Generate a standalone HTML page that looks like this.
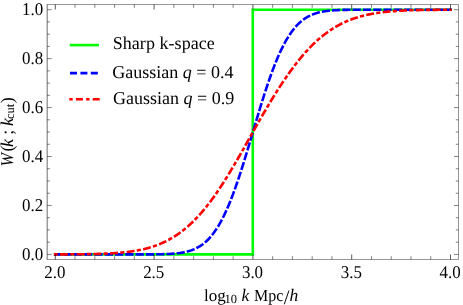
<!DOCTYPE html>
<html><head><meta charset="utf-8">
<style>
html,body{margin:0;padding:0;background:#fff;}
body{width:463px;height:305px;overflow:hidden;}
svg{display:block;will-change:transform;}
text{font-family:"Liberation Serif",serif;font-size:18px;fill:#000;text-rendering:geometricPrecision;}
#txt{filter:grayscale(1);}
.i{font-style:italic;}
</style></head><body>
<svg width="463" height="305" viewBox="0 0 463 305">
<rect width="463" height="305" fill="#fff"/>
<path d="M53.90,254.4 L252.8,254.4 L252.8,9.7 L451.80,9.7" fill="none" stroke="#00ff00" stroke-width="2.6" stroke-linejoin="miter"/>
<path d="M53.90,254.40 L54.89,254.40 L55.89,254.40 L56.88,254.40 L57.88,254.40 L58.87,254.40 L59.87,254.40 L60.86,254.40 L61.86,254.40 L62.85,254.40 L63.84,254.40 L64.84,254.40 L65.83,254.40 L66.83,254.40 L67.82,254.40 L68.82,254.40 L69.81,254.40 L70.81,254.40 L71.80,254.40 L72.80,254.40 L73.79,254.40 L74.79,254.40 L75.78,254.40 L76.78,254.40 L77.77,254.40 L78.77,254.40 L79.76,254.40 L80.76,254.40 L81.75,254.40 L82.75,254.40 L83.74,254.40 L84.73,254.40 L85.73,254.40 L86.72,254.40 L87.72,254.40 L88.71,254.40 L89.71,254.40 L90.70,254.40 L91.70,254.40 L92.69,254.40 L93.69,254.40 L94.68,254.40 L95.68,254.40 L96.67,254.40 L97.67,254.40 L98.66,254.40 L99.66,254.40 L100.65,254.40 L101.65,254.40 L102.64,254.40 L103.64,254.40 L104.63,254.40 L105.62,254.40 L106.62,254.40 L107.61,254.40 L108.61,254.40 L109.60,254.40 L110.60,254.40 L111.59,254.40 L112.59,254.40 L113.58,254.40 L114.58,254.40 L115.57,254.40 L116.57,254.40 L117.56,254.40 L118.56,254.40 L119.55,254.40 L120.55,254.40 L121.54,254.40 L122.54,254.40 L123.53,254.40 L124.53,254.40 L125.52,254.40 L126.52,254.40 L127.51,254.40 L128.50,254.40 L129.50,254.40 L130.49,254.40 L131.49,254.40 L132.48,254.40 L133.48,254.40 L134.47,254.39 L135.47,254.39 L136.46,254.39 L137.46,254.39 L138.45,254.39 L139.45,254.39 L140.44,254.39 L141.44,254.39 L142.43,254.38 L143.43,254.38 L144.42,254.38 L145.42,254.37 L146.41,254.37 L147.41,254.37 L148.40,254.36 L149.39,254.36 L150.39,254.35 L151.38,254.34 L152.38,254.34 L153.37,254.33 L154.37,254.32 L155.36,254.31 L156.36,254.30 L157.35,254.28 L158.35,254.27 L159.34,254.25 L160.34,254.23 L161.33,254.21 L162.33,254.19 L163.32,254.16 L164.32,254.13 L165.31,254.10 L166.31,254.06 L167.30,254.02 L168.30,253.98 L169.29,253.93 L170.28,253.87 L171.28,253.81 L172.27,253.75 L173.27,253.67 L174.26,253.59 L175.26,253.51 L176.25,253.41 L177.25,253.30 L178.24,253.19 L179.24,253.06 L180.23,252.93 L181.23,252.78 L182.22,252.61 L183.22,252.43 L184.21,252.24 L185.21,252.03 L186.20,251.81 L187.20,251.56 L188.19,251.29 L189.19,251.01 L190.18,250.70 L191.17,250.37 L192.17,250.01 L193.16,249.62 L194.16,249.21 L195.15,248.77 L196.15,248.29 L197.14,247.78 L198.14,247.24 L199.13,246.66 L200.13,246.05 L201.12,245.39 L202.12,244.69 L203.11,243.95 L204.11,243.16 L205.10,242.33 L206.10,241.45 L207.09,240.51 L208.09,239.53 L209.08,238.49 L210.08,237.39 L211.07,236.24 L212.07,235.03 L213.06,233.76 L214.05,232.43 L215.05,231.03 L216.04,229.57 L217.04,228.05 L218.03,226.46 L219.03,224.80 L220.02,223.08 L221.02,221.28 L222.01,219.42 L223.01,217.48 L224.00,215.48 L225.00,213.41 L225.99,211.26 L226.99,209.05 L227.98,206.77 L228.98,204.42 L229.97,202.00 L230.97,199.52 L231.96,196.97 L232.96,194.35 L233.95,191.67 L234.94,188.94 L235.94,186.14 L236.93,183.29 L237.93,180.38 L238.92,177.42 L239.92,174.41 L240.91,171.35 L241.91,168.25 L242.90,165.11 L243.90,161.93 L244.89,158.72 L245.89,155.47 L246.88,152.20 L247.88,148.91 L248.87,145.59 L249.87,142.26 L250.86,138.92 L251.86,135.57 L252.85,132.22 L253.85,128.86 L254.84,125.51 L255.83,122.17 L256.83,118.84 L257.82,115.52 L258.82,112.22 L259.81,108.95 L260.81,105.70 L261.80,102.49 L262.80,99.31 L263.79,96.16 L264.79,93.06 L265.78,89.99 L266.78,86.98 L267.77,84.01 L268.77,81.10 L269.76,78.24 L270.76,75.44 L271.75,72.69 L272.75,70.01 L273.74,67.39 L274.74,64.83 L275.73,62.34 L276.73,59.92 L277.72,57.56 L278.71,55.27 L279.71,53.05 L280.70,50.90 L281.70,48.82 L282.69,46.81 L283.69,44.87 L284.68,43.00 L285.68,41.20 L286.67,39.47 L287.67,37.80 L288.66,36.21 L289.66,34.67 L290.65,33.21 L291.65,31.81 L292.64,30.47 L293.64,29.19 L294.63,27.98 L295.63,26.82 L296.62,25.72 L297.62,24.67 L298.61,23.68 L299.60,22.75 L300.60,21.86 L301.59,21.02 L302.59,20.23 L303.58,19.48 L304.58,18.78 L305.57,18.12 L306.57,17.50 L307.56,16.91 L308.56,16.37 L309.55,15.86 L310.55,15.38 L311.54,14.93 L312.54,14.52 L313.53,14.13 L314.53,13.77 L315.52,13.43 L316.52,13.12 L317.51,12.83 L318.51,12.57 L319.50,12.32 L320.49,12.09 L321.49,11.88 L322.48,11.68 L323.48,11.51 L324.47,11.34 L325.47,11.19 L326.46,11.05 L327.46,10.92 L328.45,10.81 L329.45,10.70 L330.44,10.60 L331.44,10.52 L332.43,10.43 L333.43,10.36 L334.42,10.29 L335.42,10.23 L336.41,10.18 L337.41,10.13 L338.40,10.08 L339.40,10.04 L340.39,10.01 L341.38,9.97 L342.38,9.94 L343.37,9.92 L344.37,9.89 L345.36,9.87 L346.36,9.85 L347.35,9.83 L348.35,9.82 L349.34,9.81 L350.34,9.79 L351.33,9.78 L352.33,9.77 L353.32,9.76 L354.32,9.76 L355.31,9.75 L356.31,9.74 L357.30,9.74 L358.30,9.73 L359.29,9.73 L360.29,9.73 L361.28,9.72 L362.28,9.72 L363.27,9.72 L364.26,9.71 L365.26,9.71 L366.25,9.71 L367.25,9.71 L368.24,9.71 L369.24,9.71 L370.23,9.71 L371.23,9.71 L372.22,9.70 L373.22,9.70 L374.21,9.70 L375.21,9.70 L376.20,9.70 L377.20,9.70 L378.19,9.70 L379.19,9.70 L380.18,9.70 L381.18,9.70 L382.17,9.70 L383.17,9.70 L384.16,9.70 L385.15,9.70 L386.15,9.70 L387.14,9.70 L388.14,9.70 L389.13,9.70 L390.13,9.70 L391.12,9.70 L392.12,9.70 L393.11,9.70 L394.11,9.70 L395.10,9.70 L396.10,9.70 L397.09,9.70 L398.09,9.70 L399.08,9.70 L400.08,9.70 L401.07,9.70 L402.07,9.70 L403.06,9.70 L404.06,9.70 L405.05,9.70 L406.04,9.70 L407.04,9.70 L408.03,9.70 L409.03,9.70 L410.02,9.70 L411.02,9.70 L412.01,9.70 L413.01,9.70 L414.00,9.70 L415.00,9.70 L415.99,9.70 L416.99,9.70 L417.98,9.70 L418.98,9.70 L419.97,9.70 L420.97,9.70 L421.96,9.70 L422.96,9.70 L423.95,9.70 L424.95,9.70 L425.94,9.70 L426.93,9.70 L427.93,9.70 L428.92,9.70 L429.92,9.70 L430.91,9.70 L431.91,9.70 L432.90,9.70 L433.90,9.70 L434.89,9.70 L435.89,9.70 L436.88,9.70 L437.88,9.70 L438.87,9.70 L439.87,9.70 L440.86,9.70 L441.86,9.70 L442.85,9.70 L443.85,9.70 L444.84,9.70 L445.84,9.70 L446.83,9.70 L447.83,9.70 L448.82,9.70 L449.81,9.70 L450.81,9.70 L451.80,9.70" fill="none" stroke="#0000ff" stroke-width="2.6" stroke-dasharray="8.250 2.050 8.250 2.050 8.250 2.050 8.250 2.050 8.250 2.050 8.250 2.050 8.250 2.050 8.250 2.050 8.250 2.050 8.219 2.042 8.219 2.042 8.219 2.042 8.219 2.042 8.219 2.042 8.219 2.042 8.219 2.042 8.219 2.042 8.219 2.042 8.219 2.042 8.219 2.042 8.219 2.042 8.219 2.042 8.219 2.042 8.219 2.042 8.219 2.042 8.219 2.042 8.219 2.042 8.219 2.042 8.219 2.042 8.219 2.042 8.219 2.042 8.219 2.042 8.219 2.042 8.219 2.042 8.219 2.042 8.219 2.042 8.219 2.042 8.219 2.042 8.219 2.042 8.219 2.042 8.219 2.042 8.219 2.042 8.242 2.048 8.242 2.048 8.242 2.048 8.242 2.048 8.242 2.048 8.242 2.048 8.242 2.048 8.242 2.048 8.250 2.050 8.250 2.050 8.250 2.050 8.250 2.050 8.250 2.050" stroke-dashoffset="0.70"/>
<path d="M53.90,254.37 L54.89,254.37 L55.89,254.37 L56.88,254.37 L57.88,254.36 L58.87,254.36 L59.87,254.36 L60.86,254.35 L61.86,254.35 L62.85,254.35 L63.84,254.34 L64.84,254.34 L65.83,254.33 L66.83,254.33 L67.82,254.33 L68.82,254.32 L69.81,254.31 L70.81,254.31 L71.80,254.30 L72.80,254.30 L73.79,254.29 L74.79,254.28 L75.78,254.27 L76.78,254.26 L77.77,254.26 L78.77,254.25 L79.76,254.24 L80.76,254.22 L81.75,254.21 L82.75,254.20 L83.74,254.19 L84.73,254.17 L85.73,254.16 L86.72,254.14 L87.72,254.13 L88.71,254.11 L89.71,254.09 L90.70,254.07 L91.70,254.05 L92.69,254.03 L93.69,254.01 L94.68,253.98 L95.68,253.96 L96.67,253.93 L97.67,253.90 L98.66,253.87 L99.66,253.84 L100.65,253.81 L101.65,253.78 L102.64,253.74 L103.64,253.70 L104.63,253.66 L105.62,253.62 L106.62,253.57 L107.61,253.53 L108.61,253.48 L109.60,253.42 L110.60,253.37 L111.59,253.31 L112.59,253.25 L113.58,253.19 L114.58,253.12 L115.57,253.05 L116.57,252.98 L117.56,252.91 L118.56,252.83 L119.55,252.74 L120.55,252.66 L121.54,252.56 L122.54,252.47 L123.53,252.37 L124.53,252.26 L125.52,252.16 L126.52,252.04 L127.51,251.92 L128.50,251.80 L129.50,251.67 L130.49,251.53 L131.49,251.39 L132.48,251.25 L133.48,251.09 L134.47,250.93 L135.47,250.77 L136.46,250.60 L137.46,250.42 L138.45,250.23 L139.45,250.04 L140.44,249.83 L141.44,249.62 L142.43,249.41 L143.43,249.18 L144.42,248.95 L145.42,248.70 L146.41,248.45 L147.41,248.19 L148.40,247.91 L149.39,247.63 L150.39,247.34 L151.38,247.04 L152.38,246.73 L153.37,246.40 L154.37,246.07 L155.36,245.72 L156.36,245.36 L157.35,244.99 L158.35,244.61 L159.34,244.22 L160.34,243.81 L161.33,243.39 L162.33,242.95 L163.32,242.51 L164.32,242.04 L165.31,241.57 L166.31,241.08 L167.30,240.57 L168.30,240.05 L169.29,239.52 L170.28,238.97 L171.28,238.40 L172.27,237.82 L173.27,237.22 L174.26,236.60 L175.26,235.97 L176.25,235.32 L177.25,234.66 L178.24,233.97 L179.24,233.27 L180.23,232.55 L181.23,231.81 L182.22,231.06 L183.22,230.28 L184.21,229.49 L185.21,228.68 L186.20,227.85 L187.20,227.00 L188.19,226.13 L189.19,225.24 L190.18,224.33 L191.17,223.40 L192.17,222.45 L193.16,221.49 L194.16,220.50 L195.15,219.49 L196.15,218.46 L197.14,217.41 L198.14,216.34 L199.13,215.25 L200.13,214.14 L201.12,213.01 L202.12,211.86 L203.11,210.69 L204.11,209.50 L205.10,208.29 L206.10,207.06 L207.09,205.81 L208.09,204.54 L209.08,203.25 L210.08,201.94 L211.07,200.61 L212.07,199.26 L213.06,197.90 L214.05,196.51 L215.05,195.11 L216.04,193.68 L217.04,192.24 L218.03,190.78 L219.03,189.31 L220.02,187.81 L221.02,186.30 L222.01,184.78 L223.01,183.23 L224.00,181.68 L225.00,180.10 L225.99,178.51 L226.99,176.91 L227.98,175.30 L228.98,173.67 L229.97,172.02 L230.97,170.37 L231.96,168.70 L232.96,167.03 L233.95,165.34 L234.94,163.64 L235.94,161.94 L236.93,160.22 L237.93,158.50 L238.92,156.77 L239.92,155.03 L240.91,153.29 L241.91,151.54 L242.90,149.79 L243.90,148.03 L244.89,146.27 L245.89,144.50 L246.88,142.74 L247.88,140.97 L248.87,139.20 L249.87,137.44 L250.86,135.67 L251.86,133.90 L252.85,132.14 L253.85,130.38 L254.84,128.62 L255.83,126.86 L256.83,125.11 L257.82,123.36 L258.82,121.62 L259.81,119.88 L260.81,118.15 L261.80,116.42 L262.80,114.70 L263.79,112.99 L264.79,111.29 L265.78,109.59 L266.78,107.91 L267.77,106.23 L268.77,104.56 L269.76,102.90 L270.76,101.25 L271.75,99.61 L272.75,97.98 L273.74,96.37 L274.74,94.76 L275.73,93.17 L276.73,91.58 L277.72,90.02 L278.71,88.46 L279.71,86.91 L280.70,85.38 L281.70,83.87 L282.69,82.37 L283.69,80.88 L284.68,79.40 L285.68,77.94 L286.67,76.50 L287.67,75.07 L288.66,73.66 L289.66,72.26 L290.65,70.88 L291.65,69.52 L292.64,68.17 L293.64,66.84 L294.63,65.52 L295.63,64.22 L296.62,62.94 L297.62,61.68 L298.61,60.43 L299.60,59.21 L300.60,58.00 L301.59,56.81 L302.59,55.63 L303.58,54.48 L304.58,53.34 L305.57,52.22 L306.57,51.12 L307.56,50.04 L308.56,48.97 L309.55,47.93 L310.55,46.90 L311.54,45.89 L312.54,44.90 L313.53,43.93 L314.53,42.97 L315.52,42.04 L316.52,41.12 L317.51,40.22 L318.51,39.34 L319.50,38.48 L320.49,37.63 L321.49,36.81 L322.48,36.00 L323.48,35.20 L324.47,34.43 L325.47,33.67 L326.46,32.93 L327.46,32.21 L328.45,31.50 L329.45,30.81 L330.44,30.14 L331.44,29.48 L332.43,28.84 L333.43,28.21 L334.42,27.60 L335.42,27.01 L336.41,26.43 L337.41,25.87 L338.40,25.32 L339.40,24.78 L340.39,24.26 L341.38,23.76 L342.38,23.27 L343.37,22.79 L344.37,22.32 L345.36,21.87 L346.36,21.43 L347.35,21.01 L348.35,20.59 L349.34,20.19 L350.34,19.80 L351.33,19.42 L352.33,19.06 L353.32,18.70 L354.32,18.36 L355.31,18.03 L356.31,17.71 L357.30,17.39 L358.30,17.09 L359.29,16.80 L360.29,16.52 L361.28,16.24 L362.28,15.98 L363.27,15.73 L364.26,15.48 L365.26,15.24 L366.25,15.01 L367.25,14.79 L368.24,14.58 L369.24,14.37 L370.23,14.18 L371.23,13.98 L372.22,13.80 L373.22,13.62 L374.21,13.45 L375.21,13.29 L376.20,13.13 L377.20,12.98 L378.19,12.83 L379.19,12.69 L380.18,12.56 L381.18,12.43 L382.17,12.30 L383.17,12.18 L384.16,12.07 L385.15,11.96 L386.15,11.85 L387.14,11.75 L388.14,11.66 L389.13,11.56 L390.13,11.47 L391.12,11.39 L392.12,11.31 L393.11,11.23 L394.11,11.15 L395.10,11.08 L396.10,11.01 L397.09,10.95 L398.09,10.89 L399.08,10.83 L400.08,10.77 L401.07,10.72 L402.07,10.66 L403.06,10.61 L404.06,10.57 L405.05,10.52 L406.04,10.48 L407.04,10.44 L408.03,10.40 L409.03,10.36 L410.02,10.33 L411.02,10.29 L412.01,10.26 L413.01,10.23 L414.00,10.20 L415.00,10.17 L415.99,10.15 L416.99,10.12 L417.98,10.10 L418.98,10.08 L419.97,10.06 L420.97,10.04 L421.96,10.02 L422.96,10.00 L423.95,9.98 L424.95,9.97 L425.94,9.95 L426.93,9.94 L427.93,9.92 L428.92,9.91 L429.92,9.90 L430.91,9.89 L431.91,9.87 L432.90,9.86 L433.90,9.85 L434.89,9.85 L435.89,9.84 L436.88,9.83 L437.88,9.82 L438.87,9.81 L439.87,9.81 L440.86,9.80 L441.86,9.79 L442.85,9.79 L443.85,9.78 L444.84,9.78 L445.84,9.77 L446.83,9.77 L447.83,9.76 L448.82,9.76 L449.81,9.76 L450.81,9.75 L451.80,9.75" fill="none" stroke="#ff0000" stroke-width="2.6" stroke-dasharray="8.000 2.300 4.200 2.300 7.944 2.284 4.171 2.284 7.944 2.284 4.171 2.284 7.944 2.284 4.171 2.284 7.944 2.284 4.171 2.284 7.944 2.284 4.171 2.284 7.962 2.289 4.180 2.289 7.962 2.289 4.180 2.289 7.962 2.289 4.180 2.289 7.962 2.289 4.180 2.289 7.962 2.289 4.180 2.289 7.962 2.289 4.180 2.289 7.962 2.289 4.180 2.289 7.962 2.289 4.180 2.289 7.962 2.289 4.180 2.289 7.962 2.289 4.180 2.289 7.962 2.289 4.180 2.289 7.962 2.289 4.180 2.289 7.962 2.289 4.180 2.289 7.962 2.289 4.180 2.289 7.962 2.289 4.180 2.289 7.962 2.289 4.180 2.289 7.962 2.289 4.180 2.289 7.962 2.289 4.180 2.289 7.915 2.276 4.155 2.276 7.915 2.276 4.155 2.276 7.915 2.276 4.155 2.276 7.915 2.276 4.155 2.276 7.915 2.276 4.155 2.276 8.000 2.300 4.200 2.300 8.000 2.300 4.200 2.300 8.000 2.300 4.200 2.300 8.000 2.300 4.200 2.300" stroke-dashoffset="10.70"/>
<path d="M47.2,4.5H458.5V259.5H47.2" fill="none" stroke="#000" stroke-width="0.42"/>
<path d="M47.17,4.29V259.71" fill="none" stroke="#000" stroke-width="0.58"/>
<path d="M75.06,259.5v-3.3M75.06,4.5v3.3M94.82,259.5v-3.3M94.82,4.5v3.3M114.58,259.5v-3.3M114.58,4.5v3.3M134.34,259.5v-3.3M134.34,4.5v3.3M173.86,259.5v-3.3M173.86,4.5v3.3M193.62,259.5v-3.3M193.62,4.5v3.3M213.38,259.5v-3.3M213.38,4.5v3.3M233.14,259.5v-3.3M233.14,4.5v3.3M272.66,259.5v-3.3M272.66,4.5v3.3M292.42,259.5v-3.3M292.42,4.5v3.3M312.18,259.5v-3.3M312.18,4.5v3.3M331.94,259.5v-3.3M331.94,4.5v3.3M371.46,259.5v-3.3M371.46,4.5v3.3M391.22,259.5v-3.3M391.22,4.5v3.3M410.98,259.5v-3.3M410.98,4.5v3.3M430.74,259.5v-3.3M430.74,4.5v3.3M47.2,254.40h4.5M458.5,254.40h-4.5M47.2,242.16h2.7M458.5,242.16h-2.7M47.2,229.93h2.7M458.5,229.93h-2.7M47.2,217.69h2.7M458.5,217.69h-2.7M47.2,205.46h4.5M458.5,205.46h-4.5M47.2,193.22h2.7M458.5,193.22h-2.7M47.2,180.99h2.7M458.5,180.99h-2.7M47.2,168.75h2.7M458.5,168.75h-2.7M47.2,156.52h4.5M458.5,156.52h-4.5M47.2,144.28h2.7M458.5,144.28h-2.7M47.2,132.05h2.7M458.5,132.05h-2.7M47.2,119.81h2.7M458.5,119.81h-2.7M47.2,107.58h4.5M458.5,107.58h-4.5M47.2,95.34h2.7M458.5,95.34h-2.7M47.2,83.11h2.7M458.5,83.11h-2.7M47.2,70.88h2.7M458.5,70.88h-2.7M47.2,58.64h4.5M458.5,58.64h-4.5M47.2,46.40h2.7M458.5,46.40h-2.7M47.2,34.17h2.7M458.5,34.17h-2.7M47.2,21.93h2.7M458.5,21.93h-2.7M47.2,9.70h4.5M458.5,9.70h-4.5" fill="none" stroke="#000" stroke-width="0.5"/>
<path d="M55.30,259.5v-5M55.30,4.5v5M154.10,259.5v-5M154.10,4.5v5M252.90,259.5v-5M252.90,4.5v5M351.70,259.5v-5M351.70,4.5v5M450.50,259.5v-5M450.50,4.5v5" fill="none" stroke="#000" stroke-width="0.65"/>
<path d="M69.8,45.1 H99" stroke="#00ff00" stroke-width="2.6"/>
<path d="M70,73.1 H99" stroke="#0000ff" stroke-width="2.6" stroke-dasharray="7 3.4"/>
<path d="M69.3,99.3 H100" stroke="#ff0000" stroke-width="2.6" stroke-dasharray="3.4 3.2 7 3.2"/>
<g id="txt">
<text transform="translate(54.90,277.9) scale(0.94,1)" text-anchor="middle">2.0</text>
<text transform="translate(153.70,277.9) scale(0.94,1)" text-anchor="middle">2.5</text>
<text transform="translate(252.50,277.9) scale(0.94,1)" text-anchor="middle">3.0</text>
<text transform="translate(351.30,277.9) scale(0.94,1)" text-anchor="middle">3.5</text>
<text transform="translate(450.10,277.9) scale(0.94,1)" text-anchor="middle">4.0</text>
<text transform="translate(43.2,259.80) scale(0.94,1)" text-anchor="end">0.0</text>
<text transform="translate(43.2,210.86) scale(0.94,1)" text-anchor="end">0.2</text>
<text transform="translate(43.2,161.92) scale(0.94,1)" text-anchor="end">0.4</text>
<text transform="translate(43.2,112.98) scale(0.94,1)" text-anchor="end">0.6</text>
<text transform="translate(43.2,64.04) scale(0.94,1)" text-anchor="end">0.8</text>
<text transform="translate(43.2,15.10) scale(0.94,1)" text-anchor="end">1.0</text>
<text x="112.7" y="49.1" style="letter-spacing:0.05px">Sharp k-space</text>
<text x="112.3" y="77.9">Gaussian <tspan class="i">q</tspan> = 0.4</text>
<text x="113.1" y="104.35">Gaussian <tspan class="i">q</tspan> = 0.9</text>
<text y="301" style="font-size:17px"><tspan x="204">log</tspan><tspan font-size="12.5" x="224.6" dy="2.2">10</tspan><tspan class="i" x="241.6" dy="-2.2" font-size="17.5">k</tspan></text>
<text transform="translate(254.1,301) scale(0.94,1)" style="font-size:17px">Mpc</text>
<text x="283.8" y="303.5" style="font-size:20.5px">/</text>
<text x="289.6" y="301.2" class="i" style="font-size:17.5px">h</text>
<text transform="translate(13.20,166.4) rotate(-90) scale(0.9,1)" class="i">W</text>
<text transform="translate(13.20,151.4) rotate(-90)">(</text>
<text transform="translate(13.20,146.9) rotate(-90)" class="i">k</text>
<text transform="translate(13.20,134.85) rotate(-90)">;</text>
<text transform="translate(13.20,126.0) rotate(-90)" class="i">k</text>
<text transform="translate(14.20,119.1) rotate(-90)" style="font-size:12.5px">cut</text>
<text transform="translate(13.20,103.3) rotate(-90)">)</text>
</g>
</svg>
</body></html>
